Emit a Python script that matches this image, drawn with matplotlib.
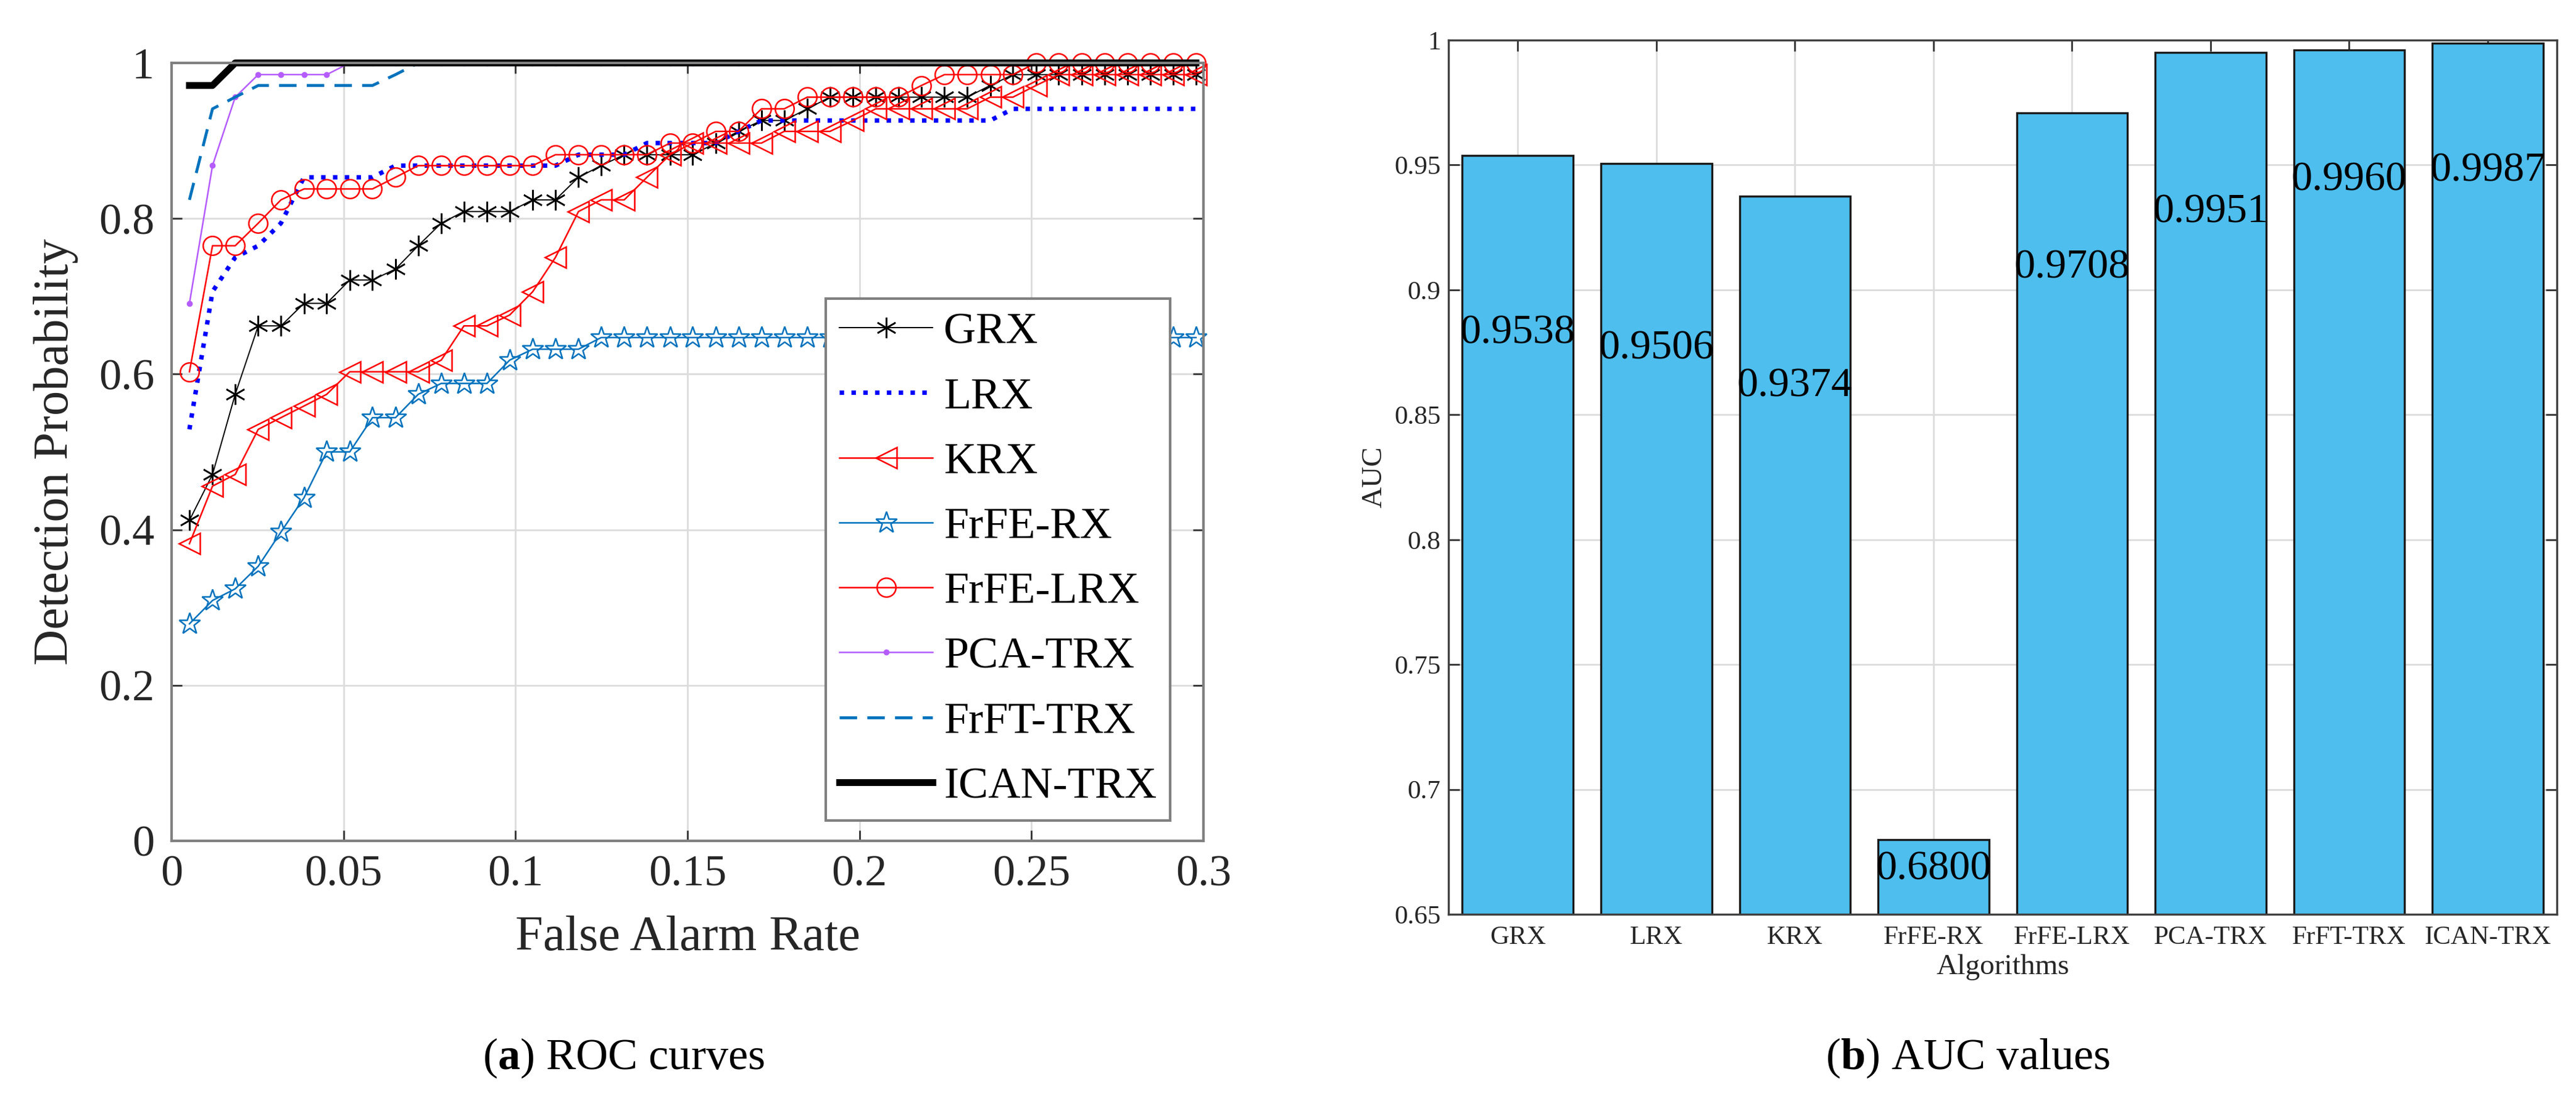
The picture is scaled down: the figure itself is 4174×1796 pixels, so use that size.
import numpy as np
import matplotlib
matplotlib.use("Agg")
import matplotlib.pyplot as plt
from matplotlib.ticker import FuncFormatter

# fontes: serifada tipo Times
plt.rcParams['font.family'] = ['Liberation Serif', 'DejaVu Serif']
plt.rcParams['mathtext.fontset'] = 'custom'
plt.rcParams['mathtext.rm'] = 'Liberation Serif'
plt.rcParams['mathtext.bf'] = 'Liberation Serif:bold'

# ---------------- dados (a) curvas ROC ----------------
taxa_falso_alarme = [0.0052, 0.0119, 0.0185, 0.0252, 0.0318, 0.0385, 0.0451, 0.0518, 0.0584,
                     0.0651, 0.0717, 0.0784, 0.0850, 0.0917, 0.0983, 0.1050, 0.1116, 0.1183,
                     0.1249, 0.1316, 0.1382, 0.1449, 0.1515, 0.1582, 0.1648, 0.1715, 0.1781,
                     0.1848, 0.1914, 0.1981, 0.2047, 0.2114, 0.2180, 0.2247, 0.2313, 0.2380,
                     0.2446, 0.2513, 0.2579, 0.2646, 0.2712, 0.2779, 0.2845, 0.2912, 0.2978]

pd_grx = [0.412, 0.471, 0.574, 0.662, 0.662, 0.691, 0.691, 0.721, 0.721, 0.735, 0.765, 0.794,
          0.809, 0.809, 0.809, 0.824, 0.824, 0.853, 0.868, 0.882, 0.882, 0.882, 0.882, 0.897,
          0.912, 0.926, 0.926, 0.941, 0.956, 0.956, 0.956, 0.956, 0.956, 0.956, 0.956, 0.971,
          0.985, 0.985, 0.985, 0.985, 0.985, 0.985, 0.985, 0.985, 0.985]

pd_lrx = [0.529, 0.706, 0.750, 0.765, 0.794, 0.853, 0.853, 0.853, 0.853, 0.868, 0.868, 0.868,
          0.868, 0.868, 0.868, 0.868, 0.868, 0.882, 0.882, 0.882, 0.897, 0.897, 0.897, 0.897,
          0.912, 0.926, 0.926, 0.926, 0.926, 0.926, 0.926, 0.926, 0.926, 0.926, 0.926, 0.926,
          0.941, 0.941, 0.941, 0.941, 0.941, 0.941, 0.941, 0.941, 0.941]

pd_krx = [0.382, 0.456, 0.471, 0.529, 0.544, 0.559, 0.574, 0.603, 0.603, 0.603, 0.603, 0.618,
          0.662, 0.662, 0.676, 0.706, 0.750, 0.809, 0.824, 0.824, 0.853, 0.882, 0.897, 0.897,
          0.897, 0.897, 0.912, 0.912, 0.912, 0.926, 0.941, 0.941, 0.941, 0.941, 0.941, 0.956,
          0.956, 0.971, 0.985, 0.985, 0.985, 0.985, 0.985, 0.985, 0.985]

pd_frfe_rx = [0.279, 0.309, 0.324, 0.353, 0.397, 0.441, 0.500, 0.500, 0.544, 0.544, 0.574, 0.588,
              0.588, 0.588, 0.618, 0.632, 0.632, 0.632, 0.647, 0.647, 0.647, 0.647, 0.647, 0.647,
              0.647, 0.647, 0.647, 0.647, 0.647, 0.647, 0.647, 0.647, 0.647, 0.647, 0.647, 0.647,
              0.647, 0.647, 0.647, 0.647, 0.647, 0.647, 0.647, 0.647, 0.647]

pd_frfe_lrx = [0.603, 0.765, 0.765, 0.794, 0.824, 0.838, 0.838, 0.838, 0.838, 0.853, 0.868, 0.868,
               0.868, 0.868, 0.868, 0.868, 0.882, 0.882, 0.882, 0.882, 0.882, 0.897, 0.897, 0.912,
               0.912, 0.941, 0.941, 0.956, 0.956, 0.956, 0.956, 0.956, 0.971, 0.985, 0.985, 0.985,
               0.985, 1.000, 1.000, 1.000, 1.000, 1.000, 1.000, 1.000, 1.000]

pd_pca_trx = [0.691, 0.868, 0.956, 0.985, 0.985, 0.985, 0.985, 1.000, 1.000, 1.000, 1.000, 1.000,
              1.000, 1.000, 1.000, 1.000, 1.000, 1.000, 1.000, 1.000, 1.000, 1.000, 1.000, 1.000,
              1.000, 1.000, 1.000, 1.000, 1.000, 1.000, 1.000, 1.000, 1.000, 1.000, 1.000, 1.000,
              1.000, 1.000, 1.000, 1.000, 1.000, 1.000, 1.000, 1.000, 1.000]

pd_frft_trx = [0.824, 0.941, 0.956, 0.971, 0.971, 0.971, 0.971, 0.971, 0.971, 0.985, 1.000, 1.000,
               1.000, 1.000, 1.000, 1.000, 1.000, 1.000, 1.000, 1.000, 1.000, 1.000, 1.000, 1.000,
               1.000, 1.000, 1.000, 1.000, 1.000, 1.000, 1.000, 1.000, 1.000, 1.000, 1.000, 1.000,
               1.000, 1.000, 1.000, 1.000, 1.000, 1.000, 1.000, 1.000, 1.000]

pd_ican_trx = [0.971, 0.971, 1.000, 1.000, 1.000, 1.000, 1.000, 1.000, 1.000, 1.000, 1.000, 1.000,
               1.000, 1.000, 1.000, 1.000, 1.000, 1.000, 1.000, 1.000, 1.000, 1.000, 1.000, 1.000,
               1.000, 1.000, 1.000, 1.000, 1.000, 1.000, 1.000, 1.000, 1.000, 1.000, 1.000, 1.000,
               1.000, 1.000, 1.000, 1.000, 1.000, 1.000, 1.000, 1.000, 1.000]

# ---------------- dados (b) valores de AUC ----------------
algoritmos = ["GRX", "LRX", "KRX", "FrFE-RX", "FrFE-LRX", "PCA-TRX", "FrFT-TRX", "ICAN-TRX"]
auc = [0.9538, 0.9506, 0.9374, 0.6800, 0.9708, 0.9951, 0.9960, 0.9987]
# deslocamento vertical dos rótulos dentro das barras
desloc_rotulo = [0.071, 0.074, 0.076, 0.012, 0.062, 0.064, 0.052, 0.051]

fig = plt.figure(figsize=(20.87, 8.98), dpi=200)

# ================= (a) ROC =================
ax1 = fig.add_axes([0.0666, 0.2411, 0.4006, 0.7021])
ax1.set_axisbelow(True)

mew = 0.9
ax1.plot(taxa_falso_alarme, pd_grx, color='black', lw=0.7, marker=(6, 2, 0), ms=12,
         mew=mew, label='GRX', clip_on=False)
ax1.plot(taxa_falso_alarme, pd_lrx, color='blue', lw=2.6, ls=':', label='LRX', clip_on=False)
ax1.plot(taxa_falso_alarme, pd_krx, color='red', lw=0.9, marker='<', ms=12.5, mfc='none',
         mew=mew, label='KRX', clip_on=False)
ax1.plot(taxa_falso_alarme, pd_frfe_rx, color='#0072BD', lw=0.9, marker='*', ms=13, mfc='none',
         mew=mew, label='FrFE-RX', clip_on=False)
ax1.plot(taxa_falso_alarme, pd_frfe_lrx, color='red', lw=0.9, marker='o', ms=11, mfc='none',
         mew=mew, label='FrFE-LRX', clip_on=False)
ax1.plot(taxa_falso_alarme, pd_pca_trx, color='#b55cff', lw=0.9, marker='.', ms=5,
         label='PCA-TRX', clip_on=False)
ax1.plot(taxa_falso_alarme, pd_frft_trx, color='#0072BD', lw=1.7, ls='--', dashes=(6, 3.5),
         label='FrFT-TRX', clip_on=False)
ax1.plot(taxa_falso_alarme, pd_ican_trx, color='black', lw=4, label='ICAN-TRX', clip_on=False)

ax1.set_xlim(0, 0.3)
ax1.set_ylim(0, 1)
ax1.set_xticks([0, 0.05, 0.1, 0.15, 0.2, 0.25, 0.3])
ax1.set_yticks([0, 0.2, 0.4, 0.6, 0.8, 1.0])
fmt = FuncFormatter(lambda v, _: f"{v:g}")
ax1.xaxis.set_major_formatter(fmt)
ax1.yaxis.set_major_formatter(fmt)
ax1.grid(True, color='#dcdcdc', lw=1.0)
ax1.tick_params(direction='in', top=True, right=True, length=6, width=1.0,
                color='#333333', labelcolor='#262626', labelsize=26)
ax1.tick_params(axis='x', pad=8)
ax1.tick_params(axis='y', pad=10)
for s in ax1.spines.values():
    s.set_color('#808080')
    s.set_linewidth(1.5)
ax1.set_xlabel('False Alarm Rate', fontsize=29, color='#262626', labelpad=12)
ax1.set_ylabel('Detection Probability', fontsize=29, color='#262626', labelpad=12)

leg = ax1.legend(loc='upper left', bbox_to_anchor=(0.634, 0.697), fontsize=26,
                 fancybox=False, edgecolor='#808080', framealpha=1, borderaxespad=0,
                 handlelength=2.1, handletextpad=0.25, labelspacing=0.55, borderpad=0.3)
leg.get_frame().set_linewidth(1.5)

# ================= (b) AUC =================
ax2 = fig.add_axes([0.5623, 0.1748, 0.4303, 0.7890])
ax2.set_axisbelow(True)
pos = np.arange(1, len(algoritmos) + 1)
ax2.bar(pos, auc, width=0.8, color='#4DBEEE', edgecolor='#1a1a1a', linewidth=1.2, zorder=2)
for p, v, d in zip(pos, auc, desloc_rotulo):
    ax2.text(p, v - d, f"{v:.4f}", ha='center', va='center', fontsize=24.5, zorder=3)

ax2.set_xlim(0.5, 8.5)
ax2.set_ylim(0.65, 1)
ax2.set_xticks(pos)
ax2.set_xticklabels(algoritmos)
ax2.set_yticks([0.65, 0.7, 0.75, 0.8, 0.85, 0.9, 0.95, 1.0])
ax2.yaxis.set_major_formatter(fmt)
ax2.grid(True, color='#dcdcdc', lw=1.0)
ax2.tick_params(direction='in', top=True, right=True, length=6.5, width=1.0,
                color='#333333', labelcolor='#262626', labelsize=15.5)
ax2.tick_params(axis='x', pad=6.5)
ax2.tick_params(axis='y', pad=4.5)
for s in ax2.spines.values():
    s.set_color('#404040')
    s.set_linewidth(1.2)
ax2.set_xlabel('Algorithms', fontsize=17, color='#262626', labelpad=3)
ax2.set_ylabel('AUC', fontsize=17, color='#262626', labelpad=4)

# legendas das subfiguras
fig.text(0.242, 0.045, r'($\mathbf{a}$) ROC curves', ha='center', va='center', fontsize=26)
fig.text(0.764, 0.045, r'($\mathbf{b}$) AUC values', ha='center', va='center', fontsize=26)

fig.savefig('out.png', dpi=200)
